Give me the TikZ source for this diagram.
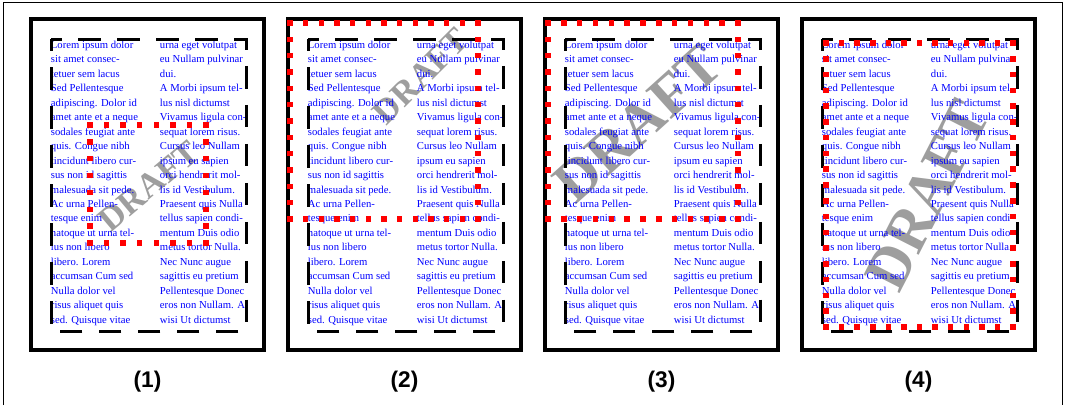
\documentclass[tikz,border=0pt]{standalone}
\usepackage{fontspec}
\setmainfont{Liberation Serif}
\newfontfamily\labelfont{Liberation Sans}
\newcommand\rdbox[6]{%
  \foreach \i in {0,...,#5}{%
    \pgfmathsetmacro\rdx{#1+(#3-#1)*\i/#5}%
    \fill[rdot] (\rdx-2.75,#2-2.75) rectangle ++(5.5,5.5);
    \fill[rdot] (\rdx-2.75,#4-2.75) rectangle ++(5.5,5.5);
  }%
  \foreach \j in {0,...,#6}{%
    \pgfmathsetmacro\rdy{#2+(#4-#2)*\j/#6}%
    \fill[rdot] (#1-2.75,\rdy-2.75) rectangle ++(5.5,5.5);
    \fill[rdot] (#3-2.75,\rdy-2.75) rectangle ++(5.5,5.5);
  }}
\begin{document}
\begin{tikzpicture}[x=0.75pt, y=-0.75pt,
  frame/.style={draw=black, line width=0.75pt},
  page/.style={draw=black, line width=3pt},
  textarea/.style={draw=black, line width=2.25pt, dash pattern=on 16.9pt off 12.32pt, dash phase=8.85pt},
  txt/.style={anchor=base west, inner sep=0pt, text=blue, font=\fontsize{8}{8}\selectfont},
  wm/.style={inner sep=0pt, text=black!38, font=\bfseries\fontsize{#1}{#1}\selectfont},
  lbl/.style={inner sep=0pt, font=\labelfont\bfseries\fontsize{17}{17}\selectfont},
  rdot/.style={fill=red}]
\useasboundingbox (0,0) rectangle (1066,405);
\draw[frame] (3,405) -- (3,2) -- (1062,2) -- (1062,405);
% watermarks
\node[wm=26, rotate=40] (wm1) at (149,186) {DRAFT};
\node[wm=26, rotate=45] (wm2) at (421,76) {DRAFT};
\node[wm=44, rotate=42] (wm3) at (638,124) {DRAFT};
\node[wm=44, rotate=63, yscale=1.05, transform shape] (wm4) at (927,195) {DRAFT};
% panels
\foreach \k [count=\n] in {0,...,3}{
  \begin{scope}[shift={(\k*257,0)}]
    \draw[page] (31,19) rectangle (264,350);
    \foreach \t [count=\i from 0] in {Lorem ipsum dolor,sit amet consec-,tetuer sem lacus,Sed Pellentesque,adipiscing. Dolor id,amet ante et a neque,sodales feugiat ante,quis. Congue nibh,tincidunt libero cur-,sus non id sagittis,malesuada sit pede.,Ac urna Pellen-,tesque enim,natoque ut urna tel-,lus non libero,libero. Lorem,accumsan Cum sed,Nulla dolor vel,risus aliquet quis,sed. Quisque vitae}
      \node[txt] (L\k-\i) at (50.7,48.3+14.47*\i) {\t};
    \foreach \t [count=\i from 0] in {urna eget volutpat,eu Nullam pulvinar,dui.,A Morbi ipsum tel-,lus nisl dictumst,Vivamus ligula con-,sequat lorem risus.,Cursus leo Nullam,ipsum eu sapien,orci hendrerit mol-,lis id Vestibulum.,Praesent quis Nulla,tellus sapien condi-,mentum Duis odio,metus tortor Nulla.,Nec Nunc augue,sagittis eu pretium,Pellentesque Donec,eros non Nullam. A,wisi Ut dictumst}
      \node[txt] (R\k-\i) at (159.7,48.3+14.47*\i) {\t};
    \draw[textarea] (51,39) -- (246,39) -- (246,331) -- (51,331) -- cycle;
    \node[lbl] (lab\n) at (147.5,382) {(\n)};
  \end{scope}
}
% red dotted boxes
\rdbox{90}{125}{206}{243}{7}{7}
\rdbox{290}{23}{478}{219}{12}{12}
\rdbox{548}{23}{738}{219}{12}{12}
\rdbox{826}{43}{1013}{327}{12}{18}
\end{tikzpicture}
\end{document}
